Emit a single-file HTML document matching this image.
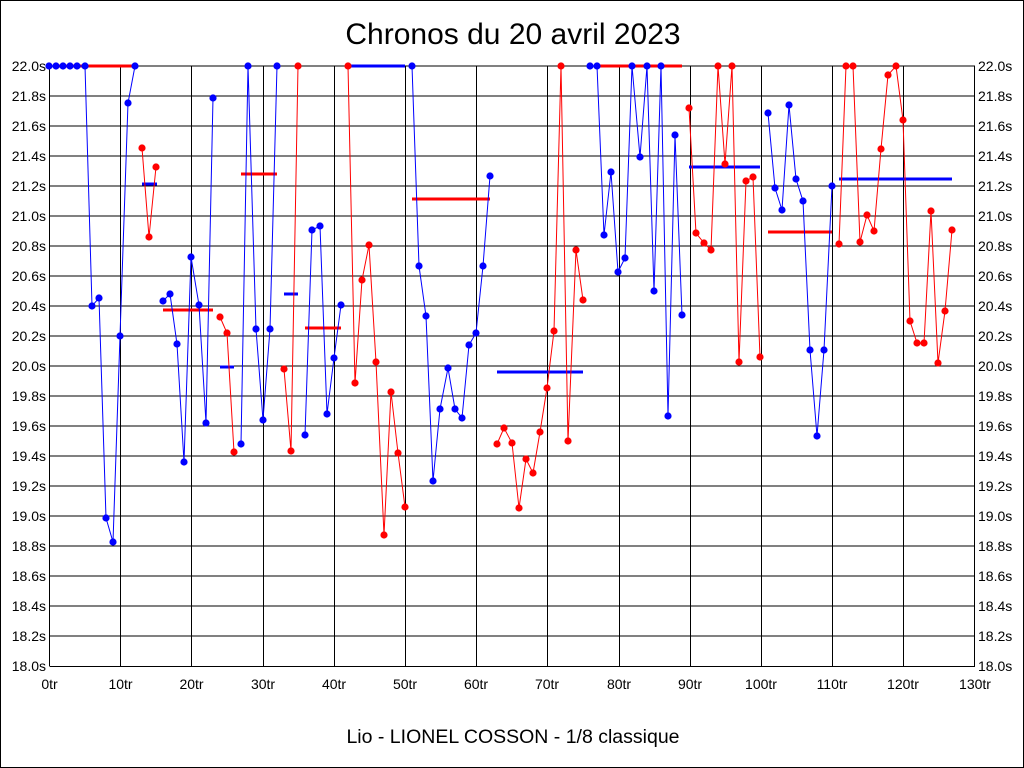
<!DOCTYPE html>
<html><head><meta charset="utf-8"><style>
html,body{margin:0;padding:0;background:#fff;}
svg{display:block;}
text{font-family:"Liberation Sans",sans-serif;}
</style></head><body>
<svg width="1024" height="768" viewBox="0 0 1024 768" xmlns="http://www.w3.org/2000/svg">
<rect x="0.5" y="0.5" width="1023" height="767" fill="#fff" stroke="#000"/>
<text x="513" y="44" font-size="30" text-anchor="middle">Chronos du 20 avril 2023</text>
<text x="513" y="743" font-size="19.5" text-anchor="middle">Lio - LIONEL COSSON - 1/8 classique</text>
<g stroke="#000" stroke-width="1" fill="none">
<path d="M49.5 66H975M49.5 96H975M49.5 126H975M49.5 156H975M49.5 186H975M49.5 216H975M49.5 246H975M49.5 276H975M49.5 306H975M49.5 336H975M49.5 366H975M49.5 396H975M49.5 426H975M49.5 456H975M49.5 486H975M49.5 516H975M49.5 546H975M49.5 576H975M49.5 606H975M49.5 636H975M49.5 666.5H975"/>
<path d="M49.5 66V666M120.5 66V666M191.5 66V666M263.5 66V666M334.5 66V666M405.5 66V666M476.5 66V666M547.5 66V666M619.5 66V666M690.5 66V666M761.5 66V666M832.5 66V666M903.5 66V666M974.5 66V666"/>
</g>
<g font-size="14" text-anchor="end">
<text x="46" y="71">22.0s</text><text x="46" y="101">21.8s</text><text x="46" y="131">21.6s</text><text x="46" y="161">21.4s</text><text x="46" y="191">21.2s</text><text x="46" y="221">21.0s</text><text x="46" y="251">20.8s</text><text x="46" y="281">20.6s</text><text x="46" y="311">20.4s</text><text x="46" y="341">20.2s</text><text x="46" y="371">20.0s</text><text x="46" y="401">19.8s</text><text x="46" y="431">19.6s</text><text x="46" y="461">19.4s</text><text x="46" y="491">19.2s</text><text x="46" y="521">19.0s</text><text x="46" y="551">18.8s</text><text x="46" y="581">18.6s</text><text x="46" y="611">18.4s</text><text x="46" y="641">18.2s</text><text x="46" y="671">18.0s</text>
</g>
<g font-size="14">
<text x="978" y="71">22.0s</text><text x="978" y="101">21.8s</text><text x="978" y="131">21.6s</text><text x="978" y="161">21.4s</text><text x="978" y="191">21.2s</text><text x="978" y="221">21.0s</text><text x="978" y="251">20.8s</text><text x="978" y="281">20.6s</text><text x="978" y="311">20.4s</text><text x="978" y="341">20.2s</text><text x="978" y="371">20.0s</text><text x="978" y="401">19.8s</text><text x="978" y="431">19.6s</text><text x="978" y="461">19.4s</text><text x="978" y="491">19.2s</text><text x="978" y="521">19.0s</text><text x="978" y="551">18.8s</text><text x="978" y="581">18.6s</text><text x="978" y="611">18.4s</text><text x="978" y="641">18.2s</text><text x="978" y="671">18.0s</text>
</g>
<g font-size="14" text-anchor="middle">
<text x="49.5" y="689">0tr</text><text x="120.5" y="689">10tr</text><text x="191.5" y="689">20tr</text><text x="263" y="689">30tr</text><text x="334" y="689">40tr</text><text x="405" y="689">50tr</text><text x="476" y="689">60tr</text><text x="547" y="689">70tr</text><text x="619" y="689">80tr</text><text x="690" y="689">90tr</text><text x="761" y="689">100tr</text><text x="832" y="689">110tr</text><text x="903" y="689">120tr</text><text x="975" y="689">130tr</text>
</g>
<g stroke-width="3">
<path stroke="#f00" d="M53 66H135"/>
<path stroke="#00f" d="M142 184H157"/>
<path stroke="#f00" d="M163 310H213"/>
<path stroke="#00f" d="M220 367H234"/>
<path stroke="#f00" d="M241 174H277"/>
<path stroke="#00f" d="M284 294H298"/>
<path stroke="#f00" d="M305 328H341"/>
<path stroke="#00f" d="M348 66H405"/>
<path stroke="#f00" d="M412 199H490"/>
<path stroke="#00f" d="M497 372H583"/>
<path stroke="#f00" d="M597 66H682"/>
<path stroke="#00f" d="M689 167H760"/>
<path stroke="#f00" d="M768 232H832"/>
<path stroke="#00f" d="M839 179H952"/>
</g>
<g fill="none" stroke-width="1">
<polyline stroke="#00f" points="49,66 56,66 63,66 70,66 77,66 85,66 92,306 99,298 106,518 113,542 120,336 128,103 135,66"/>
<polyline stroke="#f00" points="142,148 149,237 156,167"/>
<polyline stroke="#00f" points="163,301 170,294 177,344 184,462 191,257 199,305 206,423 213,98"/>
<polyline stroke="#f00" points="220,317 227,333 234,452"/>
<polyline stroke="#00f" points="241,444 248,66 256,329 263,420 270,329 277,66"/>
<polyline stroke="#f00" points="284,369 291,451 298,66"/>
<polyline stroke="#00f" points="305,435 312,230 320,226 327,414 334,358 341,305"/>
<polyline stroke="#f00" points="348,66 355,383 362,280 369,245 376,362 384,535 391,392 398,453 405,507"/>
<polyline stroke="#00f" points="412,66 419,266 426,316 433,481 440,409 448,368 455,409 462,418 469,345 476,333 483,266 490,176"/>
<polyline stroke="#f00" points="497,444 504,428 512,443 519,508 526,459 533,473 540,432 547,388 554,331 561,66 568,441 576,250 583,300"/>
<polyline stroke="#00f" points="590,66 597,66 604,235 611,172 618,272 625,258 632,66 640,157 647,66 654,291 661,66 668,416 675,135 682,315"/>
<polyline stroke="#f00" points="689,108 696,233 704,243 711,250 718,66 725,164 732,66 739,362 746,181 753,177 760,357"/>
<polyline stroke="#00f" points="768,113 775,188 782,210 789,105 796,179 803,201 810,350 817,436 824,350 832,186"/>
<polyline stroke="#f00" points="839,244 846,66 853,66 860,242 867,215 874,231 881,149 888,75 896,66 903,120 910,321 917,343 924,343 931,211 938,363 945,311 952,230"/>
</g>
<g fill="#00f">
<circle cx="49" cy="66" r="3.6"/><circle cx="56" cy="66" r="3.6"/><circle cx="63" cy="66" r="3.6"/><circle cx="70" cy="66" r="3.6"/><circle cx="77" cy="66" r="3.6"/><circle cx="85" cy="66" r="3.6"/><circle cx="92" cy="306" r="3.6"/><circle cx="99" cy="298" r="3.6"/><circle cx="106" cy="518" r="3.6"/><circle cx="113" cy="542" r="3.6"/><circle cx="120" cy="336" r="3.6"/><circle cx="128" cy="103" r="3.6"/><circle cx="135" cy="66" r="3.6"/>
<circle cx="163" cy="301" r="3.6"/><circle cx="170" cy="294" r="3.6"/><circle cx="177" cy="344" r="3.6"/><circle cx="184" cy="462" r="3.6"/><circle cx="191" cy="257" r="3.6"/><circle cx="199" cy="305" r="3.6"/><circle cx="206" cy="423" r="3.6"/><circle cx="213" cy="98" r="3.6"/>
<circle cx="241" cy="444" r="3.6"/><circle cx="248" cy="66" r="3.6"/><circle cx="256" cy="329" r="3.6"/><circle cx="263" cy="420" r="3.6"/><circle cx="270" cy="329" r="3.6"/><circle cx="277" cy="66" r="3.6"/>
<circle cx="305" cy="435" r="3.6"/><circle cx="312" cy="230" r="3.6"/><circle cx="320" cy="226" r="3.6"/><circle cx="327" cy="414" r="3.6"/><circle cx="334" cy="358" r="3.6"/><circle cx="341" cy="305" r="3.6"/>
<circle cx="412" cy="66" r="3.6"/><circle cx="419" cy="266" r="3.6"/><circle cx="426" cy="316" r="3.6"/><circle cx="433" cy="481" r="3.6"/><circle cx="440" cy="409" r="3.6"/><circle cx="448" cy="368" r="3.6"/><circle cx="455" cy="409" r="3.6"/><circle cx="462" cy="418" r="3.6"/><circle cx="469" cy="345" r="3.6"/><circle cx="476" cy="333" r="3.6"/><circle cx="483" cy="266" r="3.6"/><circle cx="490" cy="176" r="3.6"/>
<circle cx="590" cy="66" r="3.6"/><circle cx="597" cy="66" r="3.6"/><circle cx="604" cy="235" r="3.6"/><circle cx="611" cy="172" r="3.6"/><circle cx="618" cy="272" r="3.6"/><circle cx="625" cy="258" r="3.6"/><circle cx="632" cy="66" r="3.6"/><circle cx="640" cy="157" r="3.6"/><circle cx="647" cy="66" r="3.6"/><circle cx="654" cy="291" r="3.6"/><circle cx="661" cy="66" r="3.6"/><circle cx="668" cy="416" r="3.6"/><circle cx="675" cy="135" r="3.6"/><circle cx="682" cy="315" r="3.6"/>
<circle cx="768" cy="113" r="3.6"/><circle cx="775" cy="188" r="3.6"/><circle cx="782" cy="210" r="3.6"/><circle cx="789" cy="105" r="3.6"/><circle cx="796" cy="179" r="3.6"/><circle cx="803" cy="201" r="3.6"/><circle cx="810" cy="350" r="3.6"/><circle cx="817" cy="436" r="3.6"/><circle cx="824" cy="350" r="3.6"/><circle cx="832" cy="186" r="3.6"/>
</g>
<g fill="#f00">
<circle cx="142" cy="148" r="3.6"/><circle cx="149" cy="237" r="3.6"/><circle cx="156" cy="167" r="3.6"/>
<circle cx="220" cy="317" r="3.6"/><circle cx="227" cy="333" r="3.6"/><circle cx="234" cy="452" r="3.6"/>
<circle cx="284" cy="369" r="3.6"/><circle cx="291" cy="451" r="3.6"/><circle cx="298" cy="66" r="3.6"/>
<circle cx="348" cy="66" r="3.6"/><circle cx="355" cy="383" r="3.6"/><circle cx="362" cy="280" r="3.6"/><circle cx="369" cy="245" r="3.6"/><circle cx="376" cy="362" r="3.6"/><circle cx="384" cy="535" r="3.6"/><circle cx="391" cy="392" r="3.6"/><circle cx="398" cy="453" r="3.6"/><circle cx="405" cy="507" r="3.6"/>
<circle cx="497" cy="444" r="3.6"/><circle cx="504" cy="428" r="3.6"/><circle cx="512" cy="443" r="3.6"/><circle cx="519" cy="508" r="3.6"/><circle cx="526" cy="459" r="3.6"/><circle cx="533" cy="473" r="3.6"/><circle cx="540" cy="432" r="3.6"/><circle cx="547" cy="388" r="3.6"/><circle cx="554" cy="331" r="3.6"/><circle cx="561" cy="66" r="3.6"/><circle cx="568" cy="441" r="3.6"/><circle cx="576" cy="250" r="3.6"/><circle cx="583" cy="300" r="3.6"/>
<circle cx="689" cy="108" r="3.6"/><circle cx="696" cy="233" r="3.6"/><circle cx="704" cy="243" r="3.6"/><circle cx="711" cy="250" r="3.6"/><circle cx="718" cy="66" r="3.6"/><circle cx="725" cy="164" r="3.6"/><circle cx="732" cy="66" r="3.6"/><circle cx="739" cy="362" r="3.6"/><circle cx="746" cy="181" r="3.6"/><circle cx="753" cy="177" r="3.6"/><circle cx="760" cy="357" r="3.6"/>
<circle cx="839" cy="244" r="3.6"/><circle cx="846" cy="66" r="3.6"/><circle cx="853" cy="66" r="3.6"/><circle cx="860" cy="242" r="3.6"/><circle cx="867" cy="215" r="3.6"/><circle cx="874" cy="231" r="3.6"/><circle cx="881" cy="149" r="3.6"/><circle cx="888" cy="75" r="3.6"/><circle cx="896" cy="66" r="3.6"/><circle cx="903" cy="120" r="3.6"/><circle cx="910" cy="321" r="3.6"/><circle cx="917" cy="343" r="3.6"/><circle cx="924" cy="343" r="3.6"/><circle cx="931" cy="211" r="3.6"/><circle cx="938" cy="363" r="3.6"/><circle cx="945" cy="311" r="3.6"/><circle cx="952" cy="230" r="3.6"/>
</g>
</svg>
</body></html>
